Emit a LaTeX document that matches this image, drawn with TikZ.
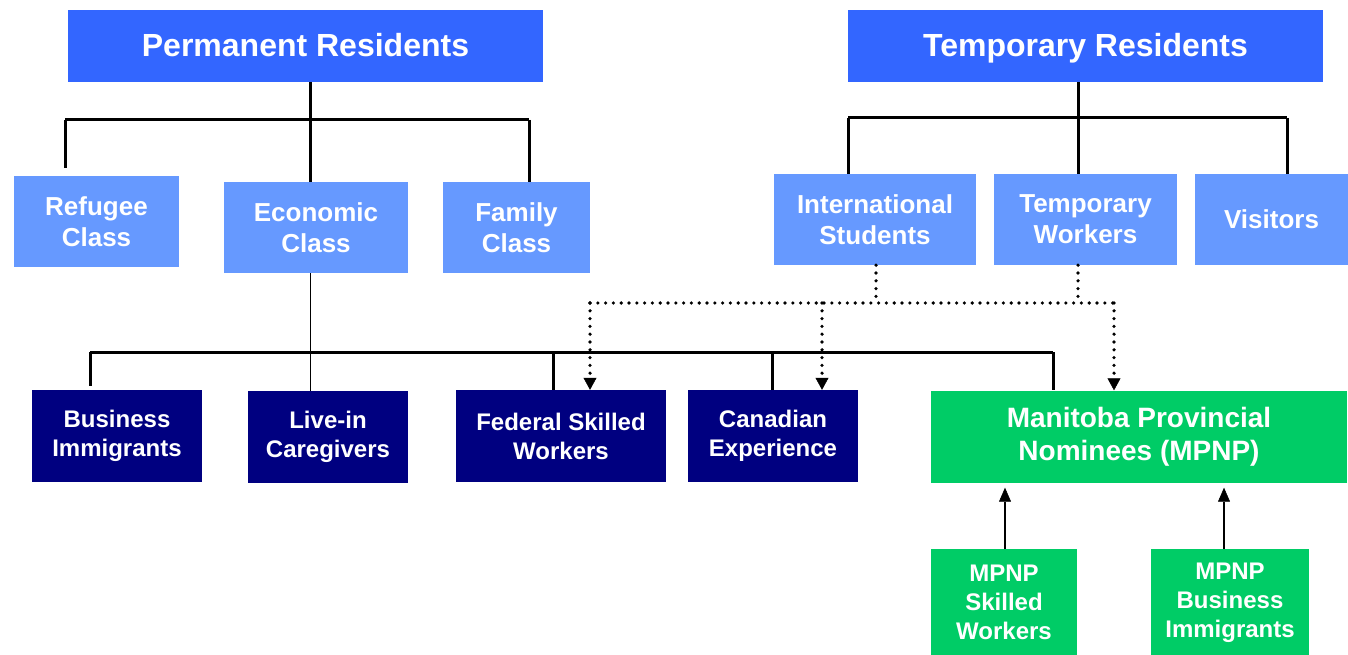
\documentclass[tikz,border=0pt]{standalone}
\usepackage{fontspec}
\setmainfont{Liberation Sans}
\usetikzlibrary{arrows.meta}
\definecolor{titleblue}{HTML}{3366FF}
\definecolor{lightblue}{HTML}{6699FF}
\definecolor{navy}{HTML}{000080}
\definecolor{mgreen}{HTML}{00CC66}
\begin{document}
\begin{tikzpicture}[x=1pt,y=-1pt,
  box/.style={draw=none,text=white,align=center,inner sep=0pt,font=\bfseries},
  titlebox/.style={box,fill=titleblue,minimum width=475pt,minimum height=72pt,text height=23pt,text depth=1pt,font=\bfseries\fontsize{32}{38}\selectfont},
  classbox/.style={box,fill=lightblue,minimum height=91pt,font=\bfseries\fontsize{26}{31}\selectfont},
  progbox/.style={box,fill=navy,minimum height=92pt,font=\bfseries\fontsize{24}{29}\selectfont},
  greenbox/.style={box,fill=mgreen,font=\bfseries\fontsize{24}{29}\selectfont},
  tree/.style={line width=3pt,black},
  thin/.style={line width=1pt,black},
  dots/.style={line width=3.6pt,line cap=round,dash pattern=on 0pt off 7.8pt,black},
  dotarrow/.style={dots,-{Triangle[width=13pt,length=12pt,line width=0.5pt]}},
  uparrow/.style={line width=2pt,black,-{Triangle[width=12pt,length=14pt,line width=0.5pt]}}
]
\useasboundingbox (0,0) rectangle (1348,655);
% top row
\node[titlebox] (pr) at (305.5,46) {Permanent Residents};
\node[titlebox] (tr) at (1085.5,46) {Temporary Residents};
% class row
\node[classbox,minimum width=165pt] (ref) at (96.5,221.5) {Refugee\\Class};
\node[classbox,minimum width=184pt] (eco) at (316,227.5) {Economic\\Class};
\node[classbox,minimum width=147pt] (fam) at (516.5,227.5) {Family\\Class};
\node[classbox,minimum width=202pt] (intl) at (875,219.5) {International\\Students};
\node[classbox,minimum width=183pt] (tw) at (1085.5,219.5) {Temporary\\Workers};
\node[classbox,minimum width=153pt] (vis) at (1271.5,219.5) {Visitors};
% program row
\node[progbox,minimum width=170pt] (bus) at (117,436) {Business\\Immigrants};
\node[progbox,minimum width=160pt] (live) at (328,437) {Live-in\\Caregivers};
\node[progbox,minimum width=210pt] (fed) at (561,436) {Federal Skilled\\Workers};
\node[progbox,minimum width=170pt] (can) at (773,436) {Canadian\\Experience};
\node[greenbox,minimum width=416pt,minimum height=92pt,font=\bfseries\fontsize{28}{33}\selectfont] (mpnp) at (1139,436.5) {Manitoba Provincial\\Nominees (MPNP)};
\node[greenbox,minimum width=146pt,minimum height=107pt] (msw) at (1004,602.5) {MPNP\\Skilled\\Workers};
\node[greenbox,minimum width=158pt,minimum height=107pt] (mbi) at (1230,602.5) {MPNP\\Business\\Immigrants};
% permanent tree
\coordinate (pl) at (65,120);
\coordinate (pc) at (310,120);
\coordinate (pr2) at (529,120);
\draw[tree] (pr.south -| pc) -- (eco.north -| pc);
\draw[tree] (pl) -- (pr2);
\draw[tree] (pl) -- ([yshift=8pt]ref.north -| pl);
\draw[tree] (pr2) -- (fam.north -| pr2);
% temporary tree
\coordinate (tl) at (848,118);
\coordinate (tc) at (1078,118);
\coordinate (trr) at (1287,118);
\draw[tree] (tr.south -| tc) -- (tw.north -| tc);
\draw[tree] (tl) -- (trr);
\draw[tree] (tl) -- (intl.north -| tl);
\draw[tree] (trr) -- (vis.north -| trr);
% economic bus
\coordinate (b1) at (90,352);
\coordinate (b2) at (553,352);
\coordinate (b3) at (772,352);
\coordinate (b4) at (1053,352);
\draw[thin] (eco.south -| 310,0) -- (live.north -| 310,0);
\draw[tree] (b1) -- (b4);
\draw[tree] (b1) -- ([yshift=4pt]bus.north -| b1);
\draw[tree] (b2) -- (fed.north -| b2);
\draw[tree] (b3) -- (can.north -| b3);
\draw[tree] (b4) -- (mpnp.north -| b4);
% dotted paths
\coordinate (d1) at (590,303);
\coordinate (d2) at (822,303);
\coordinate (d3) at (1114,303);
\coordinate (di) at (876,303);
\coordinate (dt) at (1078,303);
\draw[dots] (intl.south -| di) -- (di);
\draw[dots] (tw.south -| dt) -- (dt);
\draw[dots] (d1) -- (d3);
\draw[dotarrow] (d1) -- (fed.north -| d1);
\draw[dotarrow] (d2) -- (can.north -| d2);
\draw[dotarrow] (d3) -- (mpnp.north -| d3);
% MPNP streams
\coordinate (a1) at (1005,0);
\coordinate (a2) at (1224,0);
\draw[uparrow,shorten >=5pt] (msw.north -| a1) -- (mpnp.south -| a1);
\draw[uparrow,shorten >=5pt] (mbi.north -| a2) -- (mpnp.south -| a2);
\end{tikzpicture}
\end{document}
